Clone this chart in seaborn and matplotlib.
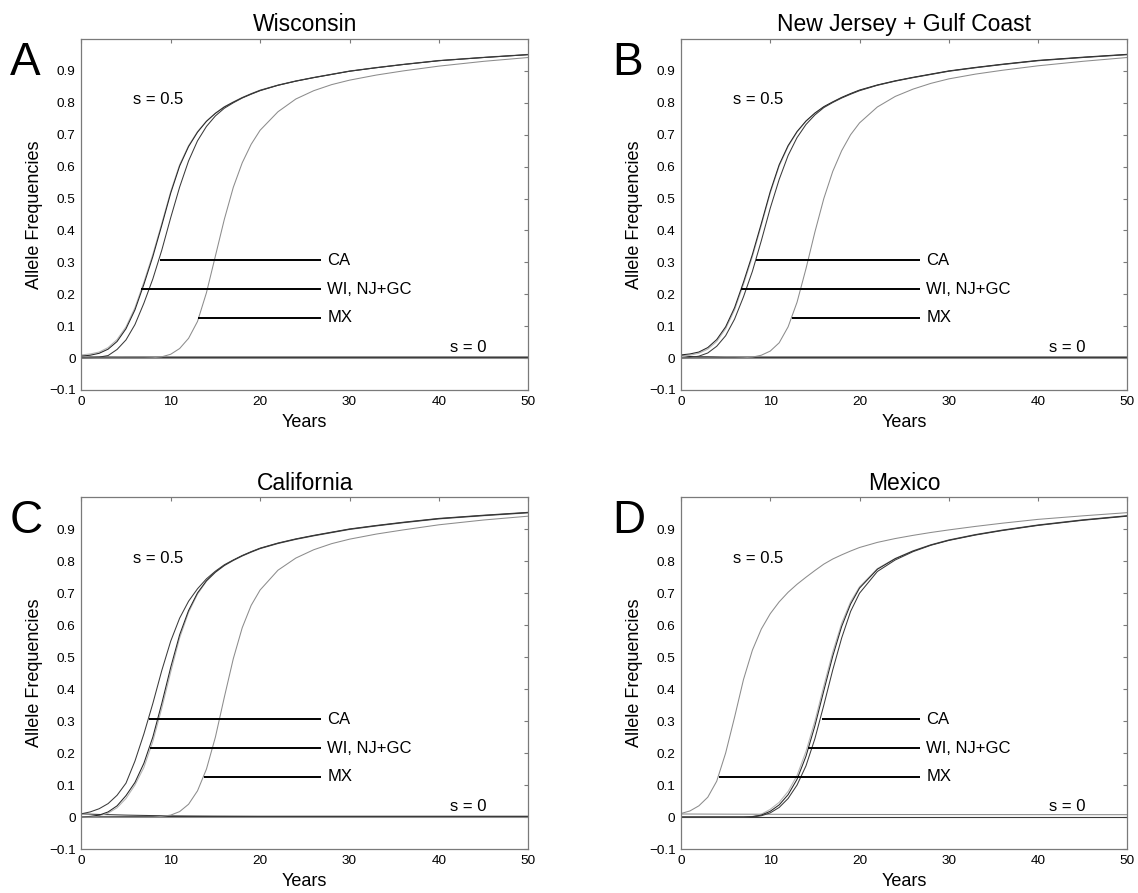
import matplotlib
matplotlib.use("Agg")
import matplotlib.pyplot as plt
import pandas as pd
import seaborn as sns

# ---------------- data ----------------
YEARS = [0, 1, 2, 3, 4, 5, 6, 7, 8, 9, 10, 11, 12, 13, 14, 15, 16, 17, 18, 19, 20,
         22, 24, 26, 28, 30, 33, 36, 40, 45, 50]
YEARS0 = [0, 1, 2, 3, 5, 8, 10, 12, 15, 20, 30, 40, 50]

# Panel A - Wisconsin (s = 0.5)
a_wi = [0.010, 0.013, 0.019, 0.033, 0.058, 0.098, 0.158, 0.238, 0.325, 0.422, 0.522, 0.606, 0.666, 0.710, 0.743, 0.768, 0.788, 0.803, 0.817, 0.829, 0.840,
        0.856, 0.869, 0.880, 0.890, 0.900, 0.911, 0.921, 0.933, 0.943, 0.952]
a_nj = [0.006, 0.009, 0.015, 0.028, 0.052, 0.092, 0.151, 0.231, 0.318, 0.416, 0.517, 0.602, 0.663, 0.708, 0.742, 0.767, 0.787, 0.802, 0.816, 0.828, 0.839,
        0.855, 0.868, 0.879, 0.889, 0.899, 0.910, 0.920, 0.932, 0.942, 0.951]
a_ca = [0.000, 0.001, 0.003, 0.008, 0.027, 0.057, 0.105, 0.172, 0.248, 0.338, 0.440, 0.536, 0.618, 0.681, 0.726, 0.759, 0.783, 0.800, 0.815, 0.827, 0.838,
        0.855, 0.868, 0.879, 0.889, 0.899, 0.910, 0.920, 0.932, 0.942, 0.951]
a_mx = [0.000, 0.000, 0.000, 0.000, 0.000, 0.000, 0.000, 0.000, 0.001, 0.004, 0.012, 0.030, 0.062, 0.115, 0.205, 0.320, 0.435, 0.535, 0.612, 0.670, 0.714,
        0.772, 0.812, 0.838, 0.857, 0.871, 0.887, 0.900, 0.915, 0.930, 0.942]
# Panel B - New Jersey + Gulf Coast (s = 0.5)
b_nj = [0.010, 0.013, 0.019, 0.033, 0.058, 0.098, 0.158, 0.238, 0.325, 0.422, 0.522, 0.606, 0.666, 0.710, 0.743, 0.768, 0.788, 0.803, 0.817, 0.829, 0.840,
        0.856, 0.869, 0.880, 0.890, 0.900, 0.911, 0.921, 0.933, 0.943, 0.952]
b_wi = [0.006, 0.009, 0.015, 0.028, 0.052, 0.092, 0.151, 0.231, 0.318, 0.416, 0.517, 0.602, 0.663, 0.708, 0.742, 0.767, 0.787, 0.802, 0.816, 0.828, 0.839,
        0.855, 0.868, 0.879, 0.889, 0.899, 0.910, 0.920, 0.932, 0.942, 0.951]
b_ca = [0.000, 0.002, 0.006, 0.016, 0.037, 0.070, 0.122, 0.192, 0.272, 0.368, 0.470, 0.560, 0.635, 0.691, 0.732, 0.762, 0.785, 0.801, 0.815, 0.827, 0.838,
        0.855, 0.868, 0.879, 0.889, 0.899, 0.910, 0.920, 0.932, 0.942, 0.951]
b_mx = [0.000, 0.000, 0.000, 0.000, 0.000, 0.000, 0.000, 0.001, 0.003, 0.009, 0.022, 0.048, 0.098, 0.175, 0.280, 0.395, 0.500, 0.585, 0.650, 0.700, 0.737,
        0.787, 0.820, 0.843, 0.861, 0.875, 0.890, 0.902, 0.916, 0.930, 0.942]
# Panel C - California (s = 0.5)
c_ca = [0.010, 0.016, 0.026, 0.042, 0.068, 0.106, 0.175, 0.260, 0.355, 0.458, 0.550, 0.622, 0.675, 0.714, 0.745, 0.769, 0.789, 0.804, 0.818, 0.830, 0.841,
        0.857, 0.870, 0.881, 0.891, 0.901, 0.912, 0.922, 0.934, 0.944, 0.953]
c_nj = [0.000, 0.002, 0.006, 0.016, 0.035, 0.067, 0.108, 0.168, 0.250, 0.355, 0.468, 0.570, 0.646, 0.701, 0.739, 0.766, 0.787, 0.803, 0.817, 0.829, 0.840,
        0.856, 0.869, 0.880, 0.890, 0.900, 0.911, 0.921, 0.933, 0.943, 0.952]
c_wi = [0.000, 0.001, 0.004, 0.012, 0.029, 0.058, 0.100, 0.155, 0.236, 0.340, 0.453, 0.560, 0.640, 0.697, 0.737, 0.765, 0.786, 0.802, 0.816, 0.828, 0.839,
        0.855, 0.868, 0.879, 0.889, 0.899, 0.910, 0.920, 0.932, 0.942, 0.951]
c_mx = [0.000, 0.000, 0.000, 0.000, 0.000, 0.000, 0.000, 0.000, 0.000, 0.002, 0.006, 0.017, 0.040, 0.082, 0.150, 0.250, 0.375, 0.495, 0.592, 0.662, 0.710,
        0.772, 0.810, 0.836, 0.855, 0.869, 0.885, 0.898, 0.914, 0.929, 0.941]
# Panel D - Mexico (s = 0.5)
d_mx = [0.011, 0.019, 0.035, 0.062, 0.112, 0.200, 0.312, 0.430, 0.522, 0.588, 0.636, 0.673, 0.703, 0.728, 0.750, 0.771, 0.791, 0.807, 0.820, 0.832, 0.843,
        0.859, 0.871, 0.881, 0.890, 0.898, 0.909, 0.919, 0.931, 0.942, 0.952]
d_nj = [0.000, 0.000, 0.000, 0.000, 0.000, 0.000, 0.000, 0.000, 0.001, 0.006, 0.018, 0.038, 0.070, 0.118, 0.190, 0.285, 0.395, 0.503, 0.596, 0.666, 0.716,
        0.775, 0.808, 0.832, 0.851, 0.866, 0.883, 0.897, 0.913, 0.929, 0.942]
d_ca = [0.000, 0.000, 0.000, 0.000, 0.000, 0.000, 0.000, 0.000, 0.000, 0.004, 0.013, 0.030, 0.058, 0.100, 0.160, 0.245, 0.350, 0.460, 0.560, 0.643, 0.700,
        0.768, 0.804, 0.830, 0.850, 0.865, 0.882, 0.896, 0.912, 0.928, 0.941]
d_wi = [0.000, 0.000, 0.000, 0.000, 0.000, 0.000, 0.000, 0.000, 0.002, 0.009, 0.024, 0.046, 0.080, 0.130, 0.205, 0.300, 0.410, 0.516, 0.606, 0.673, 0.720,
        0.777, 0.809, 0.833, 0.852, 0.867, 0.884, 0.898, 0.914, 0.930, 0.943]

# s = 0 runs
a_wi0 = [0.008, 0.005, 0.004, 0.004, 0.003, 0.003, 0.003, 0.003, 0.003, 0.003, 0.003, 0.003, 0.003]
a_nj0 = [0.002, 0.003, 0.003, 0.003, 0.003, 0.003, 0.003, 0.003, 0.003, 0.003, 0.003, 0.003, 0.003]
a_ca0 = [0.000, 0.000, 0.001, 0.001, 0.002, 0.002, 0.002, 0.002, 0.002, 0.002, 0.002, 0.002, 0.002]
a_mx0 = [0.000, 0.000, 0.000, 0.000, 0.000, 0.000, 0.000, 0.000, 0.000, 0.000, 0.000, 0.000, 0.000]
b_nj0 = [0.008, 0.005, 0.004, 0.004, 0.003, 0.003, 0.003, 0.003, 0.003, 0.003, 0.003, 0.003, 0.003]
b_wi0 = [0.002, 0.003, 0.003, 0.003, 0.003, 0.003, 0.003, 0.003, 0.003, 0.003, 0.003, 0.003, 0.003]
b_ca0 = [0.000, 0.000, 0.001, 0.001, 0.002, 0.002, 0.002, 0.002, 0.002, 0.002, 0.002, 0.002, 0.002]
b_mx0 = [0.000, 0.000, 0.000, 0.000, 0.000, 0.000, 0.000, 0.000, 0.000, 0.000, 0.000, 0.000, 0.000]
c_ca0 = [0.010, 0.009, 0.008, 0.0075, 0.006, 0.0045, 0.0035, 0.003, 0.0025, 0.002, 0.002, 0.002, 0.002]
c_wi0 = [0.000, 0.0005, 0.001, 0.001, 0.0015, 0.002, 0.002, 0.002, 0.002, 0.002, 0.002, 0.002, 0.002]
c_nj0 = [0.000, 0.0005, 0.001, 0.001, 0.0015, 0.002, 0.002, 0.002, 0.002, 0.002, 0.002, 0.002, 0.002]
c_mx0 = [0.000, 0.000, 0.000, 0.000, 0.000, 0.000, 0.000, 0.000, 0.000, 0.000, 0.000, 0.000, 0.000]
d_mx0 = [0.0095, 0.0094, 0.0093, 0.0092, 0.0090, 0.0088, 0.0086, 0.0085, 0.0083, 0.0080, 0.0077, 0.0075, 0.0073]
d_wi0 = [0.000, 0.000, 0.000, 0.000, 0.000, 0.000, 0.000, 0.000, 0.000, 0.000, 0.000, 0.000, 0.000]
d_nj0 = [0.000, 0.000, 0.000, 0.000, 0.000, 0.000, 0.000, 0.000, 0.000, 0.000, 0.000, 0.000, 0.000]
d_ca0 = [0.000, 0.000, 0.000, 0.000, 0.000, 0.000, 0.000, 0.000, 0.000, 0.000, 0.000, 0.000, 0.000]

PANELS = ["A", "B", "C", "D"]
TITLES = ["Wisconsin", "New Jersey + Gulf Coast", "California", "Mexico"]
POPS = ["WI", "NJ+GC", "CA", "MX"]
LABELS = ["CA", "WI, NJ+GC", "MX"]
LABEL_Y = [0.306, 0.215, 0.126]
PTR_CA = [8.77, 8.36, 7.53, 15.75]
PTR_WI = [6.73, 6.70, 7.73, 14.20]
PTR_MX = [13.05, 12.38, 13.73, 4.26]
PTR_END = 26.8
YTICKS = [-0.1, 0, 0.1, 0.2, 0.3, 0.4, 0.5, 0.6, 0.7, 0.8, 0.9]
YTICKLABELS = ["\u22120.1", "0", "0.1", "0.2", "0.3", "0.4", "0.5", "0.6", "0.7", "0.8", "0.9"]
XTICKS = [0, 10, 20, 30, 40, 50]

COLORS = {"WI": "#b3b3b3", "NJ+GC": "#262626", "CA": "#3a3a3a", "MX": "#8c8c8c"}

sel_runs = {
    "A": [a_wi, a_nj, a_ca, a_mx],
    "B": [b_wi, b_nj, b_ca, b_mx],
    "C": [c_wi, c_nj, c_ca, c_mx],
    "D": [d_wi, d_nj, d_ca, d_mx],
}
neutral_runs = {
    "A": [a_wi0, a_nj0, a_ca0, a_mx0],
    "B": [b_wi0, b_nj0, b_ca0, b_mx0],
    "C": [c_wi0, c_nj0, c_ca0, c_mx0],
    "D": [d_wi0, d_nj0, d_ca0, d_mx0],
}

rows = []
for p in PANELS:
    for pop, vals in zip(POPS, neutral_runs[p]):
        for yr, v in zip(YEARS0, vals):
            rows.append((p, f"{pop} s=0", pop, yr, v))
    for pop, vals in zip(POPS, sel_runs[p]):
        for yr, v in zip(YEARS, vals):
            rows.append((p, f"{pop} s=0.5", pop, yr, v))
df = pd.DataFrame(rows, columns=["panel", "curve", "pop", "year", "freq"])

# ---------------- drawing ----------------
sns.set_style("white")
plt.rcParams["font.family"] = ["Liberation Sans", "DejaVu Sans"]
plt.rcParams["text.color"] = "black"
plt.rcParams["axes.labelcolor"] = "black"

W, H = 1138, 893
fig = plt.figure(figsize=(W / 100, H / 100), dpi=100)
POS = [
    [81.3 / W, (H - 390) / H, 447 / W, 351 / H],
    [681 / W, (H - 390) / H, 446.3 / W, 351 / H],
    [81.3 / W, (H - 849) / H, 447 / W, 351.7 / H],
    [681 / W, (H - 849) / H, 446.3 / W, 351.7 / H],
]
LETTER_POS = [(10, 75), (612, 75), (10, 533), (612, 533)]

for i, p in enumerate(PANELS):
    ax = fig.add_axes(POS[i])
    sub = df[df["panel"] == p]
    order = [f"{q} s=0" for q in POPS] + [f"{q} s=0.5" for q in POPS]
    palette = {c: COLORS[c.split(" ")[0]] for c in order}
    sns.lineplot(data=sub, x="year", y="freq", hue="curve", hue_order=order,
                 palette=palette, estimator=None, sort=False, legend=False,
                 linewidth=0.75, ax=ax)

    ax.set_xlim(0, 50)
    ax.set_ylim(-0.1, 1.0)
    ax.set_xticks(XTICKS)
    ax.set_xticklabels([str(t) for t in XTICKS])
    ax.set_yticks(YTICKS)
    ax.set_yticklabels(YTICKLABELS)
    ax.tick_params(direction="in", length=3.2, width=0.8, color="#7a7a7a",
                   top=True, right=True, labelsize=9.7, pad=4, labelcolor="black")
    for sp in ax.spines.values():
        sp.set_visible(True)
        sp.set_color("#7a7a7a")
        sp.set_linewidth(0.9)
    ax.grid(False)
    ax.set_xlabel("Years", fontsize=13, labelpad=4.5, color="black")
    ax.set_ylabel("Allele Frequencies", fontsize=13, labelpad=4.5, color="black")
    ax.set_title(TITLES[i], fontsize=16.5, pad=5.5, color="black")

    ptrs = [PTR_CA[i], PTR_WI[i], PTR_MX[i]]
    for lab, yv, x0 in zip(LABELS, LABEL_Y, ptrs):
        ax.hlines(yv, x0, PTR_END, color="black", linewidth=1.4)
        ax.text(27.5, yv, lab, fontsize=12, va="center", ha="left", color="black")
    ax.text(5.8, 0.81, "s = 0.5", fontsize=12, va="center", ha="left", color="black")
    ax.text(41.2, 0.034, "s = 0", fontsize=12, va="center", ha="left", color="black")

    lx, ly = LETTER_POS[i]
    fig.text(lx / W, (H - ly) / H, p, fontsize=33, va="baseline", ha="left", color="black")

fig.savefig("out.png", dpi=100)
